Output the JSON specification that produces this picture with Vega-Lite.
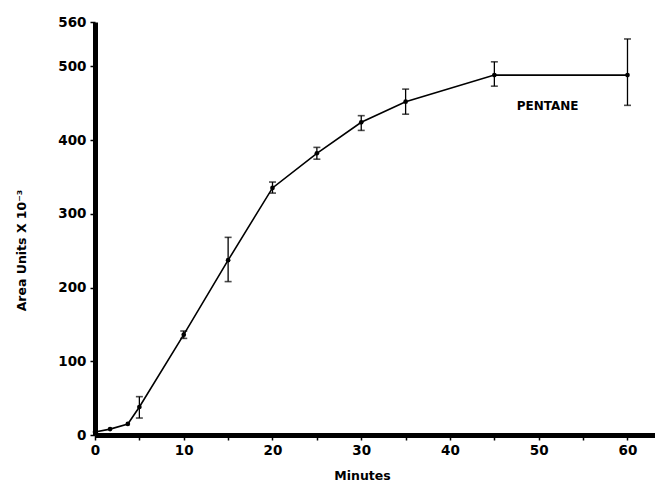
{
  "$schema": "https://vega.github.io/schema/vega-lite/v6.json",
  "width": 560,
  "height": 413,
  "autosize": {"type": "none"},
  "padding": {"left": 95, "top": 22, "right": 0, "bottom": 55},
  "background": "white",
  "config": {
    "view": {"stroke": null},
    "axis": {
      "domainColor": "black",
      "domainWidth": 5,
      "tickColor": "black",
      "tickWidth": 1.5,
      "tickSize": 5,
      "grid": false,
      "labelFont": "DejaVu Sans",
      "labelFontSize": 13.5,
      "labelFontWeight": "bold",
      "labelColor": "black",
      "titleFont": "DejaVu Sans",
      "titleFontSize": 12.5,
      "titleFontWeight": "bold",
      "titleColor": "black"
    }
  },
  "data": {
    "values": [
      {"t": 0, "a": 4},
      {"t": 1.7, "a": 8},
      {"t": 3.7, "a": 15},
      {"t": 5, "a": 38, "lo": 23, "hi": 52},
      {"t": 10, "a": 136, "lo": 131, "hi": 141},
      {"t": 15, "a": 237, "lo": 208, "hi": 268},
      {"t": 20, "a": 335, "lo": 328, "hi": 343},
      {"t": 25, "a": 382, "lo": 374, "hi": 390},
      {"t": 30, "a": 424, "lo": 413, "hi": 433},
      {"t": 35, "a": 452, "lo": 435, "hi": 469},
      {"t": 45, "a": 488, "lo": 473, "hi": 506},
      {"t": 60, "a": 488, "lo": 447, "hi": 537}
    ]
  },
  "encoding": {
    "x": {
      "field": "t",
      "type": "quantitative",
      "scale": {"domain": [0, 63.1], "nice": false, "zero": false},
      "axis": {
        "title": "Minutes",
        "values": [0, 5, 10, 15, 20, 25, 30, 35, 40, 45, 50, 55, 60],
        "labelExpr": "datum.value % 10 == 0 ? datum.label : ''",
        "labelPadding": 3,
        "titlePadding": 13,
        "titleX": 267,
        "labelFlush": false
      }
    },
    "y": {
      "field": "a",
      "type": "quantitative",
      "scale": {"domain": [0, 560], "nice": false},
      "axis": {
        "title": "Area Units X 10⁻³",
        "values": [0, 100, 200, 300, 400, 500, 560],
        "labelPadding": 4,
        "titleX": -67,
        "titleY": 228,
        "titleAlign": "center",
        "titleAngle": -90
      }
    }
  },
  "layer": [
    {"mark": {"type": "line", "color": "black", "strokeWidth": 1.6}},
    {"mark": {"type": "circle", "color": "black", "opacity": 1, "size": 22}},
    {
      "mark": {"type": "rule", "color": "black", "strokeWidth": 1.3},
      "encoding": {"y": {"field": "lo", "type": "quantitative"}, "y2": {"field": "hi"}}
    },
    {
      "mark": {"type": "tick", "color": "black", "orient": "horizontal", "size": 7, "thickness": 1.6},
      "encoding": {"y": {"field": "lo", "type": "quantitative"}}
    },
    {
      "mark": {"type": "tick", "color": "black", "orient": "horizontal", "size": 7, "thickness": 1.6},
      "encoding": {"y": {"field": "hi", "type": "quantitative"}}
    },
    {
      "data": {"values": [{"t": 51, "a": 446, "label": "PENTANE"}]},
      "mark": {"type": "text", "font": "DejaVu Sans", "fontSize": 12, "fontWeight": "bold", "letterSpacing": 1.5, "color": "black", "align": "center", "baseline": "middle"},
      "encoding": {"text": {"field": "label"}}
    }
  ]
}
